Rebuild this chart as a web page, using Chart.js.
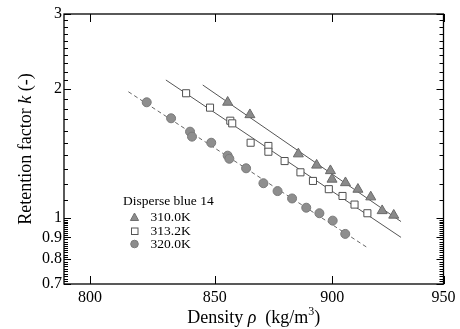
<!DOCTYPE html>
<html><head><meta charset="utf-8">
<script src="https://cdn.jsdelivr.net/npm/chart.js@4/dist/chart.umd.min.js"></script>
<style>html,body{margin:0;padding:0;background:#fff;}canvas{display:block;}</style>
</head><body>
<canvas id="c" width="460" height="329"></canvas>
<script>
// ---- data ----
const seriesNames = ['310.0K', '313.2K', '320.0K'];
const legendTitle = 'Disperse blue 14';
const rho310 = [855.4, 864.7, 885.3, 893.2, 899.2, 899.9, 905.8, 911.3, 917.0, 922.1, 927.3];
const k310   = [1.864, 1.743, 1.411, 1.328, 1.289, 1.231, 1.208, 1.166, 1.119, 1.039, 1.014];
const rho313 = [838.3, 848.1, 856.5, 857.3, 865.0, 872.5, 872.5, 879.4, 886.2, 891.6, 898.5, 904.5, 909.8, 915.5];
const k313   = [1.957, 1.811, 1.688, 1.664, 1.499, 1.473, 1.428, 1.358, 1.278, 1.220, 1.167, 1.125, 1.074, 1.025];
const rho320 = [822.4, 832.2, 839.9, 840.7, 848.6, 855.4, 856.1, 863.1, 870.4, 876.4, 882.6, 888.7, 894.4, 900.2, 905.7];
const k320   = [1.864, 1.710, 1.591, 1.549, 1.499, 1.398, 1.375, 1.306, 1.205, 1.155, 1.110, 1.056, 1.025, 0.985, 0.917];
const fitRho310 = [845.1, 930.6], fitK310 = [2.046, 0.980];
const fitRho313 = [830.1, 930.6], fitK313 = [2.102, 0.900];
const fitRho320 = [815.1, 915.6], fitK320 = [1.973, 0.851];
const xTicks = [800, 850, 900, 950];
const yTicks = [0.7, 0.8, 0.9, 1, 2, 3];
const yMinorTicks = [0.71,0.72,0.73,0.74,0.75,0.76,0.77,0.78,0.79,0.81,0.82,0.83,0.84,0.85,0.86,0.87,0.88,0.89,
  0.91,0.92,0.93,0.94,0.95,0.96,0.97,0.98,0.99,1.1,1.2,1.3,1.4,1.5,1.6,1.7,1.8,1.9,2.1,2.2,2.3,2.4,2.5,2.6,2.7,2.8,2.9];

const pts = (xs, ys) => xs.map((x, i) => ({x: x, y: ys[i]}));
const SERIF = "'Liberation Serif', 'Times New Roman', serif";
Chart.defaults.font.family = SERIF;

const framePlugin = {
  id: 'frame',
  afterDraw(chart) {
    const ctx = chart.ctx, a = chart.chartArea;
    const xs = chart.scales.x, ys = chart.scales.y;
    ctx.save();
    ctx.strokeStyle = '#000';
    ctx.lineWidth = 1.3;
    ctx.strokeRect(a.left, a.top, a.right - a.left, a.bottom - a.top);
    ctx.lineWidth = 1;
    ctx.beginPath();
    xTicks.forEach(v => {
      const px = Math.round(xs.getPixelForValue(v)) + 0.5;
      ctx.moveTo(px, a.bottom); ctx.lineTo(px, a.bottom - 8);
      ctx.moveTo(px, a.top); ctx.lineTo(px, a.top + 8);
    });
    yTicks.forEach(v => {
      const py = Math.round(ys.getPixelForValue(v)) + 0.5;
      ctx.moveTo(a.left, py); ctx.lineTo(a.left + 7, py);
      ctx.moveTo(a.right, py); ctx.lineTo(a.right - 7, py);
    });
    yMinorTicks.forEach(v => {
      const py = Math.round(ys.getPixelForValue(v)) + 0.5;
      ctx.moveTo(a.left, py); ctx.lineTo(a.left + 4, py);
      ctx.moveTo(a.right, py); ctx.lineTo(a.right - 4, py);
    });
    ctx.stroke();

    // tick labels
    ctx.fillStyle = '#000';
    ctx.font = '16px ' + SERIF;
    ctx.textAlign = 'center'; ctx.textBaseline = 'middle';
    xTicks.forEach(v => ctx.fillText(String(v), xs.getPixelForValue(v), 297.5));
    ctx.textAlign = 'right';
    yTicks.forEach(v => ctx.fillText(String(v), a.left - 2, ys.getPixelForValue(v)));
    ctx.textAlign = 'left';

    // axis titles
    ctx.textBaseline = 'alphabetic';
    const normal = '18px ' + SERIF, italic = 'italic 18px ' + SERIF, small = '12px ' + SERIF;
    const parts = [['Density ', normal, 0], ['\u03C1', italic, 0], ['  (kg/m', normal, 0], ['3', small, -8], [')', normal, 0]];
    let w = 0;
    parts.forEach(p => { ctx.font = p[1]; w += ctx.measureText(p[0]).width; });
    let x = (a.left + a.right) / 2 - w / 2;
    parts.forEach(p => { ctx.font = p[1]; ctx.fillText(p[0], x, 323 + p[2]); x += ctx.measureText(p[0]).width; });
    const yparts = [['Retention factor ', normal], ['k', italic], [' (-)', normal]];
    w = 0;
    yparts.forEach(p => { ctx.font = p[1]; w += ctx.measureText(p[0]).width; });
    ctx.save();
    ctx.translate(31, (a.top + a.bottom) / 2);
    ctx.rotate(-Math.PI / 2);
    x = -w / 2;
    yparts.forEach(p => { ctx.font = p[1]; ctx.fillText(p[0], x, 0); x += ctx.measureText(p[0]).width; });
    ctx.restore();

    // legend
    ctx.font = '13.5px ' + SERIF;
    ctx.textBaseline = 'middle';
    ctx.fillText(legendTitle, 123, 201);
    const ly = [217.5, 231, 244];
    seriesNames.forEach((n, i) => ctx.fillText(n, 150.5, ly[i]));
    ctx.fillStyle = '#8c8c8c'; ctx.strokeStyle = '#707070';
    ctx.beginPath();
    ctx.moveTo(134.5, ly[0] - 4.5); ctx.lineTo(138.6, ly[0] + 3); ctx.lineTo(130.4, ly[0] + 3); ctx.closePath();
    ctx.fill(); ctx.stroke();
    ctx.fillStyle = '#fff'; ctx.strokeStyle = '#555';
    ctx.fillRect(131, ly[1] - 3.5, 7, 7); ctx.strokeRect(131.5, ly[1] - 3, 6.5, 6.5);
    ctx.fillStyle = '#8c8c8c'; ctx.strokeStyle = '#7a7a7a';
    ctx.beginPath(); ctx.arc(134.5, ly[2], 3.8, 0, Math.PI * 2); ctx.fill(); ctx.stroke();
    ctx.restore();
  }
};

new Chart(document.getElementById('c'), {
  type: 'scatter',
  data: {
    datasets: [
      { data: pts(fitRho310, fitK310), showLine: true, pointRadius: 0, borderColor: '#555', borderWidth: 1, order: 5 },
      { data: pts(fitRho313, fitK313), showLine: true, pointRadius: 0, borderColor: '#555', borderWidth: 1, order: 5 },
      { data: pts(fitRho320, fitK320), showLine: true, pointRadius: 0, borderColor: '#666', borderWidth: 1, borderDash: [4, 3], order: 5 },
      { label: seriesNames[0], data: pts(rho310, k310), pointStyle: 'triangle', pointRadius: 5.8,
        backgroundColor: '#8a8a8a', borderColor: '#6a6a6a', borderWidth: 1, order: 1 },
      { label: seriesNames[1], data: pts(rho313, k313), pointStyle: 'rect', pointRadius: 5,
        backgroundColor: '#ffffff', borderColor: '#505050', borderWidth: 1, order: 1 },
      { label: seriesNames[2], data: pts(rho320, k320), pointStyle: 'circle', pointRadius: 4.5,
        backgroundColor: '#8e8e8e', borderColor: '#7a7a7a', borderWidth: 1, order: 1 }
    ]
  },
  options: {
    responsive: false,
    animation: false,
    devicePixelRatio: 1,
    layout: { padding: { top: 14, right: 16.5, left: 0, bottom: 0 } },
    plugins: { legend: { display: false }, tooltip: { enabled: false }, title: { display: false } },
    scales: {
      x: {
        type: 'logarithmic', min: 790, max: 950,
        grid: { display: false, drawTicks: false },
        border: { display: false },
        afterBuildTicks: s => { s.ticks = xTicks.map(v => ({ value: v })); },
        afterFit: s => { s.height = 45; },
        ticks: { display: false }
      },
      y: {
        type: 'logarithmic', min: 0.7, max: 3,
        grid: { display: false, drawTicks: false },
        border: { display: false },
        afterBuildTicks: s => { s.ticks = yTicks.map(v => ({ value: v })); },
        afterFit: s => { s.width = 64; },
        ticks: { display: false }
      }
    }
  },
  plugins: [framePlugin]
});
</script>
</body></html>
